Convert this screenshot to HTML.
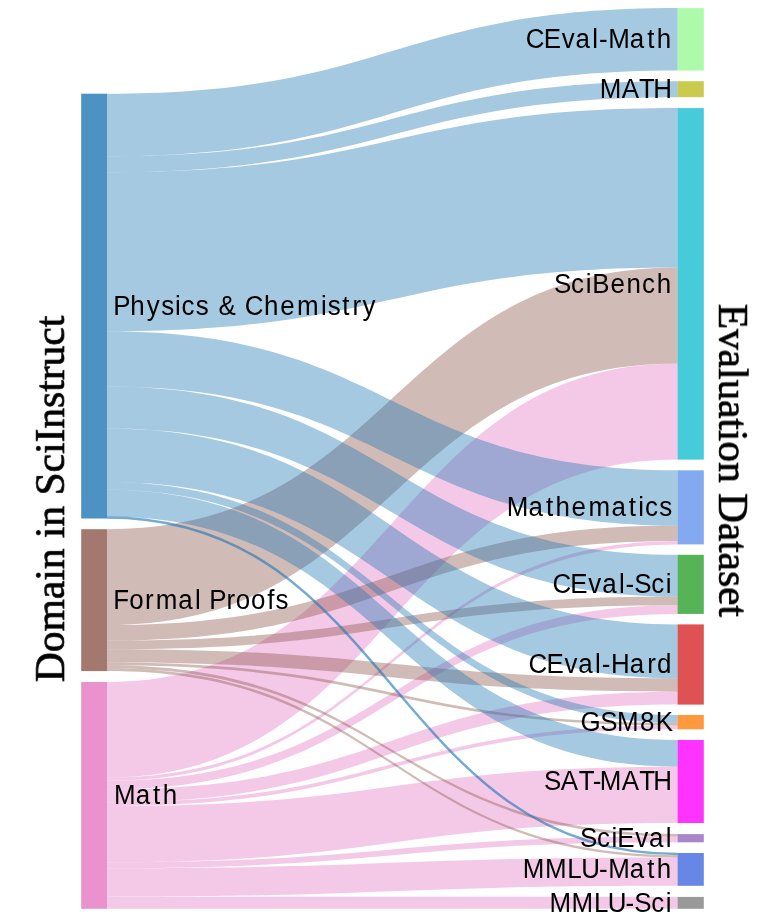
<!DOCTYPE html>
<html><head><meta charset="utf-8"><style>
html,body{margin:0;padding:0;background:#fff;width:781px;height:919px;overflow:hidden}
svg{display:block}
svg text{will-change:transform}
.lab text{font-family:"Liberation Sans",sans-serif;font-size:27.0px;fill:#000}
.ttl{font-family:"Liberation Serif",serif;font-size:41.3px;fill:#000;stroke:#000;stroke-width:0.7px}
</style></head><body>
<svg width="781" height="919" viewBox="0 0 781 919">
<rect width="781" height="919" fill="#fff"/>
<g>
<path d="M106.8,682C392.3,682 392.3,363.59 677.8,363.59L677.8,459.6C392.3,459.6 392.3,777.56 106.8,777.56Z" fill="rgba(227,119,194,0.4)"/>
<path d="M106.8,777.56C392.3,777.56 392.3,541.1 677.8,541.1L677.8,544.4C392.3,544.4 392.3,780.84 106.8,780.84Z" fill="rgba(227,119,194,0.4)"/>
<path d="M106.8,780.84C392.3,780.84 392.3,605.26 677.8,605.26L677.8,613.9C392.3,613.9 392.3,789.52 106.8,789.52Z" fill="rgba(227,119,194,0.4)"/>
<path d="M106.8,789.52C392.3,789.52 392.3,691.66 677.8,691.66L677.8,704.6C392.3,704.6 392.3,802.33 106.8,802.33Z" fill="rgba(227,119,194,0.4)"/>
<path d="M106.8,802.33C392.3,802.33 392.3,725.55 677.8,725.55L677.8,729.3C392.3,729.3 392.3,806.07 106.8,806.07Z" fill="rgba(227,119,194,0.4)"/>
<path d="M106.8,806.07C392.3,806.07 392.3,766.68 677.8,766.68L677.8,823C392.3,823 392.3,862.24 106.8,862.24Z" fill="rgba(227,119,194,0.4)"/>
<path d="M106.8,862.24C392.3,862.24 392.3,836.53 677.8,836.53L677.8,842.3C392.3,842.3 392.3,868.18 106.8,868.18Z" fill="rgba(227,119,194,0.4)"/>
<path d="M106.8,868.18C392.3,868.18 392.3,857.38 677.8,857.38L677.8,885.8C392.3,885.8 392.3,896.64 106.8,896.64Z" fill="rgba(227,119,194,0.4)"/>
<path d="M106.8,896.64C392.3,896.64 392.3,896.9 677.8,896.9L677.8,908.8C392.3,908.8 392.3,908.8 106.8,908.8Z" fill="rgba(227,119,194,0.4)"/>
<path d="M106.8,529.2C392.3,529.2 392.3,267.57 677.8,267.57L677.8,363.59C392.3,363.59 392.3,625.08 106.8,625.08Z" fill="rgba(140,86,75,0.4)"/>
<path d="M106.8,625.08C392.3,625.08 392.3,525.6 677.8,525.6L677.8,541.1C392.3,541.1 392.3,640.59 106.8,640.59Z" fill="rgba(140,86,75,0.4)"/>
<path d="M106.8,640.59C392.3,640.59 392.3,596.62 677.8,596.62L677.8,605.26C392.3,605.26 392.3,649.29 106.8,649.29Z" fill="rgba(140,86,75,0.4)"/>
<path d="M106.8,649.29C392.3,649.29 392.3,678.27 677.8,678.27L677.8,691.66C392.3,691.66 392.3,662.6 106.8,662.6Z" fill="rgba(140,86,75,0.4)"/>
<path d="M106.8,662.6C392.3,662.6 392.3,722.85 677.8,722.85L677.8,725.55C392.3,725.55 392.3,665.3 106.8,665.3Z" fill="rgba(140,86,75,0.4)"/>
<path d="M106.8,665.3C392.3,665.3 392.3,834.1 677.8,834.1L677.8,836.53C392.3,836.53 392.3,668.2 106.8,668.2Z" fill="rgba(140,86,75,0.4)"/>
<path d="M106.8,668.2C392.3,668.2 392.3,855.19 677.8,855.19L677.8,857.38C392.3,857.38 392.3,671.1 106.8,671.1Z" fill="rgba(140,86,75,0.4)"/>
<path d="M106.8,93.7C392.3,93.7 392.3,8.1 677.8,8.1L677.8,70.5C392.3,70.5 392.3,156.22 106.8,156.22Z" fill="rgba(31,119,180,0.4)"/>
<path d="M106.8,156.22C392.3,156.22 392.3,81.2 677.8,81.2L677.8,97.2C392.3,97.2 392.3,172.2 106.8,172.2Z" fill="rgba(31,119,180,0.4)"/>
<path d="M106.8,172.2C392.3,172.2 392.3,108.1 677.8,108.1L677.8,267.57C392.3,267.57 392.3,331.19 106.8,331.19Z" fill="rgba(31,119,180,0.4)"/>
<path d="M106.8,331.19C392.3,331.19 392.3,470.3 677.8,470.3L677.8,525.6C392.3,525.6 392.3,386.42 106.8,386.42Z" fill="rgba(31,119,180,0.4)"/>
<path d="M106.8,386.42C392.3,386.42 392.3,554.8 677.8,554.8L677.8,596.62C392.3,596.62 392.3,428.47 106.8,428.47Z" fill="rgba(31,119,180,0.4)"/>
<path d="M106.8,428.47C392.3,428.47 392.3,624.4 677.8,624.4L677.8,678.27C392.3,678.27 392.3,481.9 106.8,481.9Z" fill="rgba(31,119,180,0.4)"/>
<path d="M106.8,481.9C392.3,481.9 392.3,715 677.8,715L677.8,722.85C392.3,722.85 392.3,489.74 106.8,489.74Z" fill="rgba(31,119,180,0.4)"/>
<path d="M106.8,489.74C392.3,489.74 392.3,740 677.8,740L677.8,766.68C392.3,766.68 392.3,516.4 106.8,516.4Z" fill="rgba(31,119,180,0.4)"/>
<path d="M106.8,517.45C392.3,517.45 392.3,854.09 677.8,854.09" fill="none" stroke="rgba(31,119,180,0.62)" stroke-width="2.5"/>
</g>
<g>
<rect x="81.2" y="93.7" width="25.8" height="424.8" fill="rgb(76,146,195)"/>
<rect x="81.2" y="529.2" width="25.8" height="141.9" fill="rgb(163,120,111)"/>
<rect x="81.2" y="682" width="25.8" height="226.8" fill="rgb(233,146,206)"/>
<rect x="677.6" y="8.1" width="26.2" height="62.4" fill="rgb(172,250,170)"/>
<rect x="677.6" y="81.2" width="26.2" height="16" fill="rgb(201,202,78)"/>
<rect x="677.6" y="108.1" width="26.2" height="351.5" fill="rgb(69,203,217)"/>
<rect x="677.6" y="470.3" width="26.2" height="74.1" fill="rgb(131,170,241)"/>
<rect x="677.6" y="554.8" width="26.2" height="59.1" fill="rgb(86,179,86)"/>
<rect x="677.6" y="624.4" width="26.2" height="80.2" fill="rgb(222,82,83)"/>
<rect x="677.6" y="715" width="26.2" height="14.3" fill="rgb(255,153,62)"/>
<rect x="677.6" y="740" width="26.2" height="83" fill="rgb(255,51,255)"/>
<rect x="677.6" y="834.1" width="26.2" height="8.2" fill="rgb(169,133,202)"/>
<rect x="677.6" y="853" width="26.2" height="32.8" fill="rgb(103,135,231)"/>
<rect x="677.6" y="896.9" width="26.2" height="11.9" fill="rgb(153,153,153)"/>
</g>
<g class="lab">
<text transform="translate(113.8,314.9) scale(0.96,1)" x="-0.48 17.12 34.29 49.37 63.65 70.65 85.47 99.01 109.08 128.39 136.35 156.57 173.34 190.88 215.86 222.96 237.94 248.56 259.18" y="0">Physics &amp; Chemistry</text>
<text transform="translate(113.8,608.95) scale(0.96,1)" x="-0.58 16.07 32.39 43.68 67.14 84.59 91.28 99.31 117.5 127.14 142.94 159.95 168.48" y="0">Formal Proofs</text>
<text transform="translate(113.8,804.2) scale(0.96,1)" x="0.31 22.8 40.94 50.97" y="0">Math</text>
<text transform="translate(526.35,48.1) scale(0.96,1)" x="-0.55 18.04 36.79 51.15 68.6 75.59 85.26 107.75 125.9 135.93" y="0">CEval-Math</text>
<text transform="translate(599.41,98) scale(0.96,1)" x="0.31 23.22 41.38 56.01" y="0">MATH</text>
<text transform="translate(554.47,292.65) scale(0.96,1)" x="-0.38 17.3 32.46 39.27 58.29 74.99 91.26 106.65" y="0">SciBench</text>
<text transform="translate(506.58,516.15) scale(0.96,1)" x="0.31 22.8 40.94 50.97 67.74 85.28 109.21 127.36 137.16 144.17 158.99" y="0">Mathematics</text>
<text transform="translate(553.06,593.15) scale(0.96,1)" x="-0.55 18.04 36.79 51.15 68.6 75.59 84.58 102.26 117.41" y="0">CEval-Sci</text>
<text transform="translate(529.14,673.3) scale(0.96,1)" x="-0.55 18.04 36.79 51.15 68.6 75.59 85.27 104.78 123.05 133.31" y="0">CEval-Hard</text>
<text transform="translate(580.59,730.95) scale(0.96,1)" x="-0.15 20.37 38.04 61.84 78.25" y="0">GSM8K</text>
<text transform="translate(544.42,790.3) scale(0.96,1)" x="-0.38 17.12 35.77 50.38 57.59 80.5 98.66 113.29" y="0">SAT-MATH</text>
<text transform="translate(580.28,847) scale(0.96,1)" x="-0.38 17.3 32.46 38.5 57.25 71.6 89.06" y="0">SciEval</text>
<text transform="translate(522.44,878.2) scale(0.96,1)" x="0.31 23.4 46.73 61.16 79.67 89.34 111.83 129.98 140.01" y="0">MMLU-Math</text>
<text transform="translate(549.14,911.65) scale(0.96,1)" x="0.31 23.4 46.73 61.16 79.67 88.66 106.34 121.49" y="0">MMLU-Sci</text>
</g>
<text class="ttl" style="font-size:41.5px" transform="translate(64.1,498.9) rotate(-90)" text-anchor="middle">Domain in SciInstruct</text>
<text class="ttl" transform="translate(719.0,460.4) rotate(90)" text-anchor="middle">Evaluation Dataset</text>
</svg>
</body></html>
